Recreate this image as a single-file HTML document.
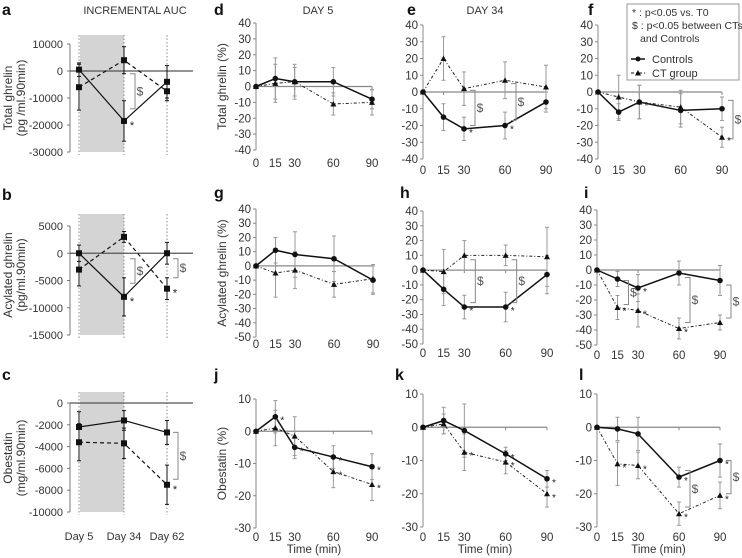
<!DOCTYPE html>
<html><head><meta charset="utf-8">
<style>
body{margin:0;background:#fff;}
svg{display:block;font-family:"Liberation Sans",sans-serif;}
</style></head>
<body>
<svg id="fig" width="742" height="558" viewBox="0 0 742 558"></svg>
<script>
const days=["Day 5","Day 34","Day 62"];
const times=[0,15,30,60,90];
// AUC panels
const aCtrl=[500,-18500,-4000], aCtrlErr=[2500,7500,6000];
const aCT=[-6000,4000,-7500], aCTErr=[8500,5000,3500];
const bCtrl=[0,-8000,0], bCtrlErr=[1500,3500,2000];
const bCT=[-3000,3000,-6500], bCTErr=[3000,1000,2000];
const cCtrl=[-2200,-1600,-2700], cCtrlErr=[1400,900,1100];
const cCT=[-3600,-3700,-7500], cCTErr=[1700,1400,1800];
// time-course panels
const dCtrl=[0,5,3,3,-8], dCtrlErr=[0,13,11,9,6], dCT=[0,2,3,-11,-10], dCTErr=[0,12,9,7,8];
const eCtrl=[0,-15,-22,-20,-6], eCtrlErr=[0,8,7,8,6], eCT=[0,20,2,7,3], eCTErr=[0,13,10,11,13];
const fCtrl=[0,-12,-6,-11,-10], fCtrlErr=[0,5,10,10,7], fCT=[0,-3,-6,-9,-27], fCTErr=[0,13,10,10,6];
const gCtrl=[0,11,8,5,-10], gCtrlErr=[0,9,16,16,10], gCT=[0,-5,-3,-13,-9], gCTErr=[0,17,13,9,10];
const hCtrl=[0,-13,-25,-25,-3], hCtrlErr=[0,11,8,10,13], hCT=[0,-1,10,10,9], hCTErr=[0,15,10,7,20];
const iCtrl=[0,-6,-12,-2,-7], iCtrlErr=[0,5,9,8,10], iCT=[0,-25,-27,-39,-35], iCTErr=[0,8,11,7,5];
const jCtrl=[0,4.5,-5,-8,-11], jCtrlErr=[0,5,3.5,3.5,4], jCT=[0,1,-1.5,-12.5,-16.5], jCTErr=[0,5.5,6,5,5];
const kCtrl=[0,2,-1,-8,-15.5], kCtrlErr=[0,4,8,2,2.5], kCT=[0,1,-7.5,-10.5,-20], kCTErr=[0,3,5.5,3.5,4];
const lCtrl=[0,-0.5,-2,-15,-10], lCtrlErr=[0,3.5,5,3,5], lCT=[0,-11,-11.5,-26,-20.5], lCTErr=[0,6.5,4,3.5,4];

const S=document.getElementById('fig');
const NS='http://www.w3.org/2000/svg';
function el(tag,attrs,name,txt){
  const e=document.createElementNS(NS,tag);
  for(const k in attrs)e.setAttribute(k,attrs[k]);
  
  
  if(txt!==undefined)e.textContent=txt;
  S.appendChild(e);return e;
}
function line(x1,y1,x2,y2,st,w,dash,name){
  const a={x1:x1,y1:y1,x2:x2,y2:y2,stroke:st,'stroke-width':w};
  if(dash)a['stroke-dasharray']=dash;
  return el('line',a,name);
}
function text(x,y,t,o,name){
  o=o||{};
  const a={x:x,y:y,'font-size':o.fs||11,fill:o.fill||'#333','text-anchor':o.anchor||'middle'};
  if(o.bold)a['font-weight']='bold';
  if(o.rot)a.transform='rotate(-90 '+x+' '+y+')';
  return el('text',a,name,t);
}
function errbar(x,y1,y2,col,name){
  line(x,y1,x,y2,col,1,null,name);
  line(x-2,y1,x+2,y1,col,1,null,name+'-cap');
  line(x-2,y2,x+2,y2,col,1,null,name+'-cap');
}
function marker(x,y,type,name){
  if(type==='sq') el('rect',{x:x-3,y:y-3,width:6,height:6,fill:'#111'},name);
  else el('polygon',{points:(x)+','+(y-3)+' '+(x-3)+','+(y+2.5)+' '+(x+3)+','+(y+2.5),fill:'#111'},name);
}
function bracket(x,ya,yb,name){
  el('path',{d:'M'+(x)+','+ya+' H'+(x+5)+' V'+yb+' H'+x,fill:'none',stroke:'#888','stroke-width':1},name);
  text(x+10,(ya+yb)/2+4,'$',{fs:12,fill:'#555'},name+'-label');
}

// ---- AUC panels ----
function aucPanel(p){
  const ys=v=>p.p1+(v-p.v1)*(p.p2-p.p1)/(p.v2-p.v1);
  const xs=[79,124,167];
  el('rect',{x:80,y:p.shadeTop,width:44,height:ys(p.v2)-p.shadeTop,fill:'#d4d4d4'},'shaded-region-'+p.id);
  xs.forEach((x,i)=>line(x,p.shadeTop,x,ys(p.v2)+3,'#888',1,'1.5,2','day-gridline-'+p.id));
  line(70,p.p1,70,ys(p.v2),'#777',1,null,'y-axis-'+p.id);
  for(let v=p.v1;v>=p.v2;v-=p.step){
    line(67,ys(v),70,ys(v),'#777',1,null,'y-tick-'+p.id);
    text(63,ys(v)+4,String(v),{anchor:'end'},'y-tick-label-'+p.id);
  }
  line(70,ys(0),193,ys(0),'#555',1.3,null,'zero-line-'+p.id);
  xs.forEach((x,i)=>{
    errbar(x,ys(p.ctrl[i]-p.ctrlErr[i]),ys(p.ctrl[i]+p.ctrlErr[i]),'#111','ctrl-error-'+p.id);
    errbar(x,ys(p.ct[i]-p.ctErr[i]),ys(p.ct[i]+p.ctErr[i]),'#111','ct-error-'+p.id);
  });
  el('polyline',{points:xs.map((x,i)=>x+','+ys(p.ctrl[i])).join(' '),fill:'none',stroke:'#111','stroke-width':1.2},'controls-line-'+p.id);
  el('polyline',{points:xs.map((x,i)=>x+','+ys(p.ct[i])).join(' '),fill:'none',stroke:'#111','stroke-width':1.2,'stroke-dasharray':'4,3'},'ct-line-'+p.id);
  xs.forEach((x,i)=>{marker(x,ys(p.ctrl[i]),'sq','controls-point-'+p.id);marker(x,ys(p.ct[i]),'sq','ct-point-'+p.id);});
  (p.brackets||[]).forEach(b=>bracket(xs[b[0]]+6,ys(b[1]),ys(b[2]),'sig-bracket-'+p.id));
  (p.stars||[]).forEach(s=>text(xs[s[0]]+8,ys(s[1])+8,'*',{fs:11,fill:'#222'},'star-'+p.id));
  text(12,p.titleY,p.t1,{rot:1,fs:12},'y-axis-title-'+p.id);
  text(25,p.titleY,p.t2,{rot:1,fs:12},'y-axis-title-units-'+p.id);
}
aucPanel({id:'a',v1:10000,p1:44,v2:-30000,p2:152,step:10000,shadeTop:35,ctrl:aCtrl,ctrlErr:aCtrlErr,ct:aCT,ctErr:aCTErr,
  brackets:[[1,-1000,-14000]],stars:[[1,-18500]],t1:'Total ghrelin',t2:'(pg /ml.90min)',titleY:98});
aucPanel({id:'b',v1:5000,p1:226,v2:-15000,p2:335,step:5000,shadeTop:214,ctrl:bCtrl,ctrlErr:bCtrlErr,ct:bCT,ctErr:bCTErr,
  brackets:[[1,-1000,-5500],[2,-1000,-4500]],stars:[[1,-8000],[2,-6500]],t1:'Acylated ghrelin',t2:'(pg/ml.90min)',titleY:275});
aucPanel({id:'c',v1:0,p1:403,v2:-10000,p2:512,step:2000,shadeTop:392,ctrl:cCtrl,ctrlErr:cCtrlErr,ct:cCT,ctErr:cCTErr,
  brackets:[[2,-2700,-7000]],stars:[[2,-7500]],t1:'Obestatin',t2:'(mg/ml.90min)',titleY:458});
days.forEach((d,i)=>text([79,124,167][i],540,d,{fs:11},'x-tick-label-c'));

// ---- time panels ----
function timePanel(p){
  const xs=t=>p.ax+t*(p.x90-p.ax)/90;
  const ys=v=>p.p1+(v-p.v1)*(p.p2-p.p1)/(p.v2-p.v1);
  line(p.ax,ys(p.v1),p.ax,ys(p.v2),'#888',1,null,'y-axis-'+p.id);
  for(let v=p.v1;v>=p.v2;v-=10){
    line(p.ax-3,ys(v),p.ax,ys(v),'#888',1,null,'y-tick-'+p.id);
    text(p.ax-5,ys(v)+4,String(v),{anchor:'end',fs:11.5},'y-tick-label-'+p.id);
  }
  line(p.ax,ys(0),p.x90,ys(0),'#888',1.2,null,'zero-line-'+p.id);
  times.forEach(t=>{line(xs(t),ys(0),xs(t),ys(0)+3,'#888',1,null,'x-tick-'+p.id);
    text(xs(t),p.ly,String(t),{fs:11.5},'x-tick-label-'+p.id);});
  times.forEach((t,i)=>{
    if(p.ctrlErr[i])errbar(xs(t),ys(p.ctrl[i]-p.ctrlErr[i]),ys(p.ctrl[i]+p.ctrlErr[i]),'#999','ctrl-error-'+p.id);
    if(p.ctErr[i])errbar(xs(t),ys(p.ct[i]-p.ctErr[i]),ys(p.ct[i]+p.ctErr[i]),'#999','ct-error-'+p.id);
  });
  el('polyline',{points:times.map((t,i)=>xs(t)+','+ys(p.ct[i])).join(' '),fill:'none',stroke:'#222','stroke-width':1,'stroke-dasharray':'3,2,1,2'},'ct-line-'+p.id);
  el('polyline',{points:times.map((t,i)=>xs(t)+','+ys(p.ctrl[i])).join(' '),fill:'none',stroke:'#111','stroke-width':1.5},'controls-line-'+p.id);
  times.forEach((t,i)=>{marker(xs(t),ys(p.ct[i]),'tri','ct-point-'+p.id);
    el('circle',{cx:xs(t),cy:ys(p.ctrl[i]),r:2.8,fill:'#111'},'controls-point-'+p.id);});
  (p.brackets||[]).forEach(b=>bracket(xs(b[0])+6,ys(b[1]),ys(b[2]),'sig-bracket-'+p.id));
  (p.stars||[]).forEach(s=>text(xs(s[0])+7,ys(s[1])+7,'*',{fs:10,fill:'#222'},'star-'+p.id));
  if(p.title)text(p.ax-30,(ys(p.v1)+ys(p.v2))/2,p.title,{rot:1,fs:12},'y-axis-title-'+p.id);
  if(p.xt)text((p.ax+p.x90)/2,553,'Time (min)',{fs:11.5},'x-axis-title-'+p.id);
}
timePanel({id:'d',ax:256,x90:372,v1:40,p1:23,v2:-40,p2:150,ly:167,ctrl:dCtrl,ctrlErr:dCtrlErr,ct:dCT,ctErr:dCTErr,title:'Total ghrelin (%)'});
timePanel({id:'e',ax:423,x90:546,v1:40,p1:25,v2:-40,p2:159,ly:174,ctrl:eCtrl,ctrlErr:eCtrlErr,ct:eCT,ctErr:eCTErr,
  brackets:[[30,1,-20],[60,5,-17]],stars:[[30,-22],[60,-20]]});
timePanel({id:'f',ax:598,x90:722,v1:40,p1:25,v2:-40,p2:159,ly:174,ctrl:fCtrl,ctrlErr:fCtrlErr,ct:fCT,ctErr:fCTErr,
  brackets:[[90,-5,-28]],stars:[[30,-6],[90,-27]]});
timePanel({id:'g',ax:256,x90:373,v1:40,p1:209,v2:-50,p2:337,ly:348,ctrl:gCtrl,ctrlErr:gCtrlErr,ct:gCT,ctErr:gCTErr,title:'Acylated ghrelin (%)'});
timePanel({id:'h',ax:423,x90:547,v1:40,p1:211,v2:-50,p2:344,ly:357,ctrl:hCtrl,ctrlErr:hCtrlErr,ct:hCT,ctErr:hCTErr,
  brackets:[[30,7,-22],[60,7,-22]],stars:[[30,-25],[60,-25]]});
timePanel({id:'i',ax:597,x90:720,v1:40,p1:210,v2:-50,p2:345,ly:359,ctrl:iCtrl,ctrlErr:iCtrlErr,ct:iCT,ctErr:iCTErr,
  brackets:[[15,-7,-23],[60,-5,-35],[90,-10,-32]],stars:[[15,-25],[30,-27],[30,-12],[60,-39]]});
timePanel({id:'j',ax:256,x90:372,v1:10,p1:399,v2:-30,p2:528,ly:541,xt:1,ctrl:jCtrl,ctrlErr:jCtrlErr,ct:jCT,ctErr:jCTErr,title:'Obestatin (%)',
  stars:[[15,4.5],[30,-5],[60,-8],[90,-11],[60,-12.5],[90,-16.5]]});
timePanel({id:'k',ax:423,x90:547,v1:10,p1:394,v2:-30,p2:527,ly:541,xt:1,ctrl:kCtrl,ctrlErr:kCtrlErr,ct:kCT,ctErr:kCTErr,
  stars:[[60,-8],[90,-15.5],[30,-7.5],[60,-10.5],[90,-20]]});
timePanel({id:'l',ax:597,x90:720,v1:10,p1:394,v2:-30,p2:527,ly:541,xt:1,ctrl:lCtrl,ctrlErr:lCtrlErr,ct:lCT,ctErr:lCTErr,
  brackets:[[60,-13,-24],[90,-10,-20]],stars:[[60,-15],[90,-10],[15,-11],[30,-11.5],[60,-26],[90,-20.5]]});

// panel letters and titles
[['a',2,15],['d',214,15],['e',407,15],['f',588,15],['b',2,200],['g',214,198],['h',400,198],['i',584,198],['c',2,380],['j',214,380],['k',395,380],['l',579,380]]
 .forEach(l=>text(l[1],l[2],l[0],{fs:16,bold:1,anchor:'start',fill:'#111'},'panel-letter-'+l[0]));
text(135,14,'INCREMENTAL AUC',{fs:11},'title-auc');
text(318,14,'DAY 5',{fs:11},'title-day5');
text(485,14,'DAY 34',{fs:11},'title-day34');
text(648,14,'DAY 62',{fs:11},'title-day62');

// legend
el('rect',{x:627,y:4,width:112,height:76,fill:'#fff',stroke:'#999','stroke-width':1},'legend-box');
text(632,16,'* : p<0.05 vs. T0',{fs:10.5,anchor:'start'},'legend-star-note');
text(632,29,'$ : p<0.05 between CTs',{fs:10.5,anchor:'start'},'legend-dollar-note');
text(640,42,'and Controls',{fs:10.5,anchor:'start'},'legend-dollar-note-2');
line(631,59,645,59,'#111',1.5,null,'legend-controls-line');
el('circle',{cx:638,cy:59,r:2.5,fill:'#111'},'legend-controls-marker');
text(652,63,'Controls',{fs:11,anchor:'start'},'legend-controls-label');
line(631,73,645,73,'#111',1,'3,2,1,2','legend-ct-line');
marker(638,73,'tri','legend-ct-marker');
text(652,77,'CT group',{fs:11,anchor:'start'},'legend-ct-label');
</script>
</body></html>
